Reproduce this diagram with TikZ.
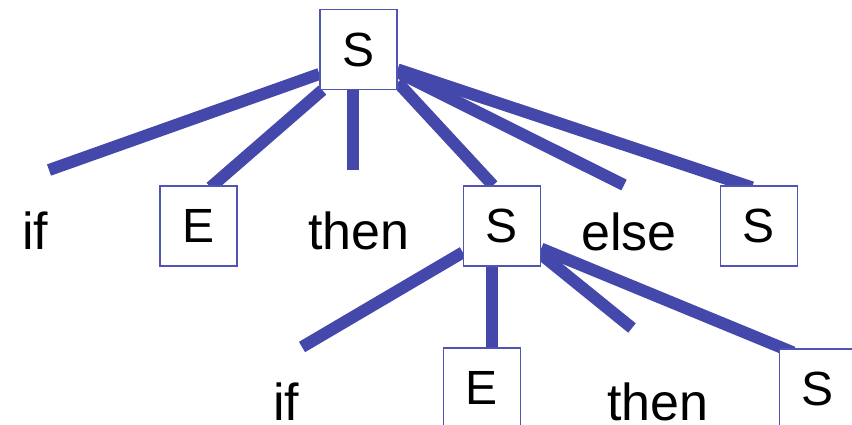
\documentclass[tikz,border=0pt]{standalone}
\usepackage{fontspec}
\setmainfont{Liberation Sans}
\definecolor{edgeblue}{RGB}{67,72,170}
\definecolor{boxblue}{RGB}{80,84,180}
\begin{document}
\begin{tikzpicture}[x=1pt,y=1pt,
  box/.style={draw=boxblue, line width=1.3pt, fill=white, minimum width=77pt, minimum height=80pt, inner sep=0pt, font=\fontsize{48}{56}\selectfont},
  word/.style={anchor=base, inner sep=0pt, font=\fontsize{52}{60}\selectfont},
  edge/.style={draw=edgeblue, line width=12pt}]
\useasboundingbox (0,0) rectangle (852,-425);
\clip (0,0) rectangle (852,-425);
% boxes
\node[box] (topS) at (358.5,-49.5) {S};
\node[box] (E1) at (198.5,-226) {E};
\node[box] (Smid) at (502,-226) {S};
\node[box] (Sright) at (759,-226) {S};
\node[box] (E2) at (482,-388) {E};
\node[box] (S2) at (818,-389) {S};
% words
\node[word] (if1) at (35,-249) {if};
\node[word] (then1) at (359,-249) {then};
\node[word] (else1) at (629,-250) {else};
\node[word] (if2) at (286,-420) {if};
\node[word] (then2) at (658,-420) {then};
% free ends
\coordinate (cif1) at (49,-170);
\coordinate (cthen1) at (352.5,-170);
\coordinate (celse1) at (624,-185);
\coordinate (cif2) at (302,-347);
\coordinate (cthen2) at (632,-328);
% edges
\draw[edge] (topS.212.5) -- (cif1);
\draw[edge] ([shift={(3pt,0pt)}]topS.south west) -- ([shift={(12pt,-2pt)}]E1.north);
\draw[edge] ([xshift=-6pt]topS.south) -- (cthen1);
\draw[edge] (topS.320) -- ([xshift=-9pt]Smid.north);
\draw[edge] (topS.330) -- (celse1);
\draw[edge] (topS.333) -- ([xshift=-7pt,yshift=-2pt]Sright.north);
\draw[edge] (Smid.214.4) -- (cif2);
\draw[edge] ([xshift=-10pt]Smid.south) -- ([xshift=10pt]E2.north);
\draw[edge] (Smid.324.6) -- (cthen2);
\draw[edge] (Smid.330) -- ([xshift=-25pt,yshift=-4pt]S2.north);
% redraw boxes on top
\node[box] at (topS) {S};
\node[box] at (E1) {E};
\node[box] at (Smid) {S};
\node[box] at (Sright) {S};
\node[box] at (E2) {E};
\node[box] at (S2) {S};
\end{tikzpicture}
\end{document}
